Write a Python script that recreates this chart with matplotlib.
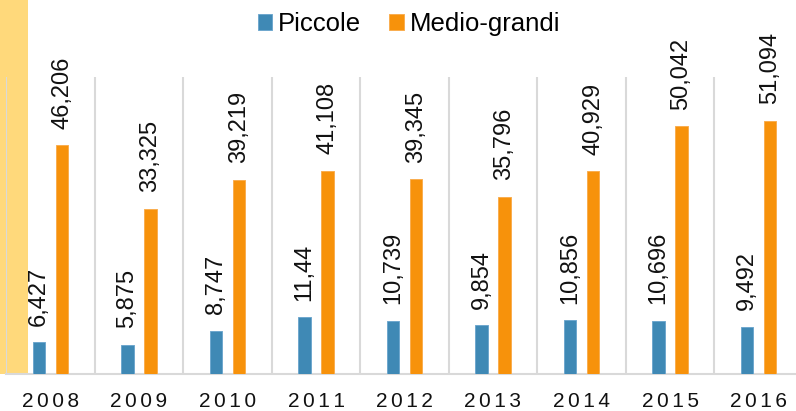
import matplotlib
matplotlib.use("Agg")
import matplotlib.pyplot as plt
from matplotlib.patches import Rectangle
import numpy as np

plt.rcParams['font.family'] = ['Liberation Sans', 'DejaVu Sans']

years = ['2008', '2009', '2010', '2011', '2012', '2013', '2014', '2015', '2016']
piccole = [6.427, 5.875, 8.747, 11.44, 10.739, 9.854, 10.856, 10.696, 9.492]
medio_grandi = [46.206, 33.325, 39.219, 41.108, 39.345, 35.796, 40.929, 50.042, 51.094]

blue = '#3F89B5'
orange = '#F7920B'

fig = plt.figure(figsize=(7.96, 4.11), dpi=100)
# yellow strip at the left edge
fig.patches.append(Rectangle((0, 37 / 411), 28 / 796, 374 / 411, transform=fig.transFigure,
                             facecolor='#FFD97B', edgecolor='none', zorder=-1))

ax = fig.add_axes([6.25 / 796, 37 / 411, 796.5 / 796, 297 / 411])
ax.patch.set_visible(False)

x = np.arange(len(years))
w = 0.136
off = 0.13
b1 = ax.bar(x - off, piccole, w, color=blue, edgecolor='#6FA8CE', linewidth=0.7, label='Piccole', zorder=3)
b2 = ax.bar(x + off, medio_grandi, w, color=orange, edgecolor='#F9AE50', linewidth=0.7, label='Medio-grandi', zorder=3)

for bars, vals in ((b1, piccole), (b2, medio_grandi)):
    for r, v in zip(bars, vals):
        ax.annotate(str(v).replace('.', ','), (r.get_x() + r.get_width() / 2, r.get_height()),
                    xytext=(0, 12), textcoords='offset points', rotation=90,
                    ha='center', va='bottom', fontsize=17, color='#111111')

ax.set_xlim(-0.5, len(years) - 0.5)
ax.set_ylim(0, 60)
ax.set_yticks([])

# category separators
for b in np.arange(-0.5, len(years), 1.0):
    ax.axvline(b, color='#D9D9D9', linewidth=1.5, zorder=1)

for s in ['top', 'right', 'left']:
    ax.spines[s].set_visible(False)
ax.spines['bottom'].set_color('#D9D9D9')
ax.spines['bottom'].set_linewidth(1.5)

ax.set_xticks(x)
ax.set_xticklabels(['\u2006'.join(y) for y in years], fontsize=15, color='#111111')
ax.tick_params(axis='x', length=0, pad=13)

fig.legend(loc='center', bbox_to_anchor=(409 / 796, 1 - 24 / 411), ncol=2, frameon=False,
           fontsize=18.5, handlelength=0.55, handleheight=0.55, handletextpad=0.25,
           columnspacing=1.1, borderpad=0)

fig.savefig('out.png', dpi=100)
